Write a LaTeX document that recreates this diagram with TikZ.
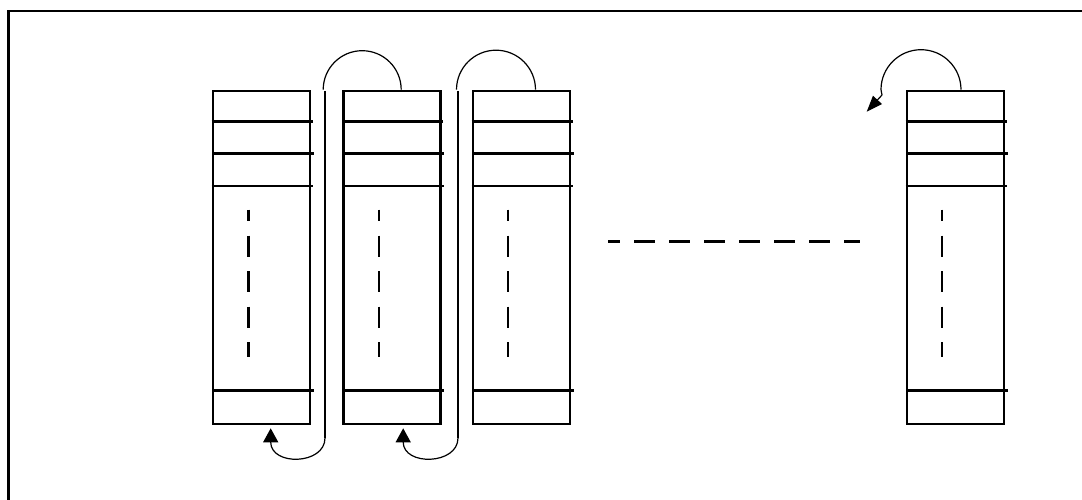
\documentclass[tikz,border=0pt]{standalone}
\usetikzlibrary{arrows.meta,calc}
\begin{document}
\begin{tikzpicture}[x=1pt,y=-1pt,
  cell/.style={draw,line width=2.6pt,rectangle,minimum width=97pt,minimum height=333pt,inner sep=0pt},
  rule/.style={line width=2.6pt},
  vdots/.style={line width=2.5pt,dash pattern=on 21pt off 14.5pt,dash phase=9.5pt},
  hdots/.style={line width=2.5pt,dash pattern=on 21pt off 14pt,dash phase=9pt},
  link/.style={line width=1.2pt},
  riser/.style={line width=1.8pt},
  tip/.style={-{Triangle[length=14pt,width=15pt]}},
  slanttip/.style={-{Triangle[length=16pt,width=12pt]}}]
\useasboundingbox (0,0) rectangle (1082,500);
\clip (0,0) rectangle (1082,500);

% outer frame (only the left and top edges fall on the page)
\draw[line width=2.8pt] (1095,11) -- (8.3,11) -- (8.3,510);

% stacks of cells
\foreach \n/\cx in {b1/261.5, b2/392, b3/521.3, b4/955.3} {
  \node[cell] (\n) at (\cx,257.5) {};
  \draw[rule] ($(\n.north west)+(0,31.7)$) -- ($(\n.north east)+(1.5,31.7)$);
  \draw[rule] ($(\n.north west)+(2,64)$) -- ($(\n.north east)+(2.5,64)$);
  \draw[rule] ($(\n.north west)+(0,96.3)$) -- ($(\n.north east)+(2,96.3)$);
  \draw[rule] ($(\n.north west)+(2,301)$) -- ($(\n.north east)+(2.5,301)$);
  \draw[vdots] ($(\n.north west)+(36.6,120)$) -- ($(\n.north west)+(36.6,267)$);
}

% links between neighbouring stacks
\coordinate (r1t) at (325,91);
\coordinate (r1b) at (325,438);
\coordinate (r2t) at (458,91);
\coordinate (r2b) at (458,438);

\draw[link] ($(b2.north west)+(59,0)$) arc[start angle=0,end angle=180,radius=39pt];
\draw[riser] (r1t) -- (r1b);
\draw[link,tip] (r1b) .. controls (325,465) and ($(b1.south west)+(59,41)$) .. ($(b1.south west)+(59,3)$);

\draw[link] ($(b3.north west)+(64,0)$) arc[start angle=0,end angle=180,radius=39.5pt];
\draw[riser] (r2t) -- (r2b);
\draw[link,tip] (r2b) .. controls (458,465) and ($(b2.south west)+(61,41)$) .. ($(b2.south west)+(61,3)$);

% link leaving the last stack
\coordinate (lt) at (882,95);
\coordinate (lh) at (866.7,111.7);
\draw[link] ($(b4.north west)+(55.5,0)$) arc[start angle=0,end angle=180,radius=40pt] -- (lt);
\draw[link,slanttip] (lt) -- (lh);

% ellipsis between the stacks
\coordinate (dl) at (608,241.7);
\coordinate (dr) at (860,241.7);
\draw[hdots] (dl) -- (dr);
\end{tikzpicture}
\end{document}
